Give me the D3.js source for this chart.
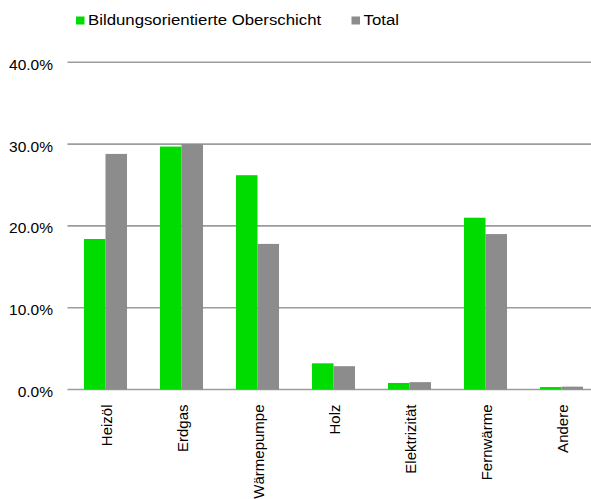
<!DOCTYPE html>
<html>
<head>
<meta charset="utf-8">
<script src="https://cdn.jsdelivr.net/npm/d3@7"></script>
<style>
  html, body { margin: 0; padding: 0; background: #fff; }
  svg { display: block; }
  text { font-family: "Liberation Sans", Arial, sans-serif; fill: #000; }
</style>
</head>
<body>
<div id="chart"></div>
<script>
const categories = ["Heizöl", "Erdgas", "Wärmepumpe", "Holz", "Elektrizität", "Fernwärme", "Andere"];
const seriesNames = ["Bildungsorientierte Oberschicht", "Total"];
const oberschicht = [18.4, 29.7, 26.2, 3.2, 0.8, 21.0, 0.3];
const total = [28.8, 30.0, 17.8, 2.85, 0.9, 19.0, 0.35];
const yTicks = [0, 10, 20, 30, 40];
const colors = ["#00dc00", "#8c8c8c"];

const W = 591, H = 499;
const FONT = '"Liberation Sans", Arial, sans-serif';
const svg = d3.select("#chart").append("svg").attr("width", W).attr("height", H);

const x0 = d3.scaleBand().domain(categories).range([67.5, 599.5])
  .paddingInner(0.434).paddingOuter(0.217);
const x1 = d3.scaleBand().domain(seriesNames).range([0, x0.bandwidth()]);
const y = d3.scaleLinear().domain([0, 40]).range([389.5, 62.3]);

// gridlines
svg.append("g").selectAll("line").data(yTicks).join("line")
  .attr("x1", 67.5).attr("x2", W)
  .attr("y1", d => y(d)).attr("y2", d => y(d))
  .attr("stroke", "#9c9c9c").attr("stroke-width", 1.6);

// y axis labels
const yAxis = d3.axisLeft(y).tickValues(yTicks).tickSize(0).tickPadding(0)
  .tickFormat(d => d.toFixed(1) + "%");
const ya = svg.append("g").attr("transform", "translate(53,0)").call(yAxis);
ya.select(".domain").remove();
ya.selectAll("text").style("font-size", "15.5px").style("font-family", FONT)
  .attr("fill", "#000").attr("dy", "0.45em");

// bars
const seriesData = [oberschicht, total];
seriesNames.forEach((name, si) => {
  svg.append("g").selectAll("rect").data(categories).join("rect")
    .attr("x", c => x0(c) + x1(name))
    .attr("y", (c, i) => y(seriesData[si][i]))
    .attr("width", x1.bandwidth())
    .attr("height", (c, i) => y(0) - y(seriesData[si][i]))
    .attr("fill", colors[si]);
});

// x labels
const xAxis = d3.axisBottom(x0).tickSize(0).tickPadding(0);
const xa = svg.append("g").attr("transform", "translate(0,389.5)").call(xAxis);
xa.select(".domain").remove();
xa.selectAll("text")
  .style("font-size", "15px").style("font-family", FONT)
  .attr("fill", "#000")
  .attr("transform", "rotate(-90)")
  .attr("text-anchor", "end")
  .attr("x", -15).attr("y", 1).attr("dy", "0.35em");

// legend
const legend = svg.append("g");
const legendX = [76, 351.5];
seriesNames.forEach((name, i) => {
  const g = legend.append("g").attr("transform", `translate(${legendX[i]},0)`);
  g.append("rect").attr("x", 0).attr("y", 16.5).attr("width", 8.5).attr("height", 8).attr("fill", colors[i]);
  g.append("text").attr("transform", "translate(12,25) scale(1.12,1)")
    .style("font-size", "15px").style("font-family", FONT).text(name);
});
</script>
</body>
</html>
